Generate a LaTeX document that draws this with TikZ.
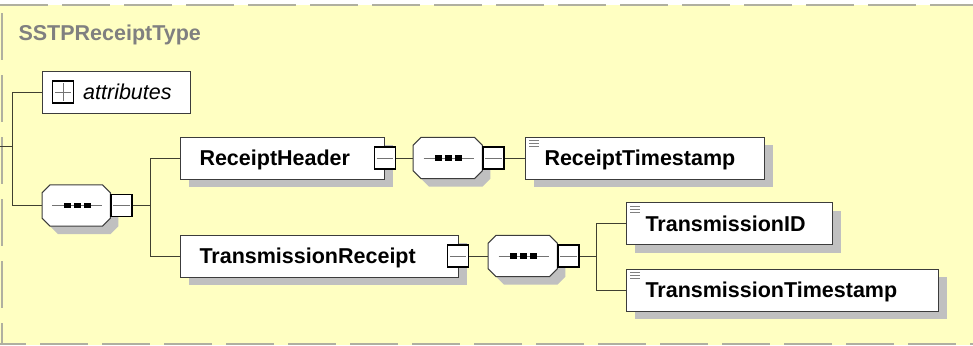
\documentclass[tikz,border=0pt]{standalone}
\usepackage{fontspec}
\setmainfont{Liberation Sans}
\usepackage{tikz}
\usetikzlibrary{positioning,calc,shadows}
\definecolor{bgyellow}{RGB}{255,255,194}
\definecolor{framegray}{RGB}{176,176,160}
\definecolor{shadegray}{RGB}{192,192,192}
\definecolor{linecol}{RGB}{64,64,48}
\definecolor{boxline}{RGB}{60,60,60}
\tikzset{
    plainbox/.style={draw=boxline, line width=1pt, fill=white, anchor=west, minimum height=42pt},
    elem/.style={plainbox, inner xsep=19pt, align=left, font=\fontsize{21.5pt}{26pt}\selectfont\bfseries,
        text height=15.4pt, text depth=0pt,
        general shadow={fill=shadegray, shadow xshift=8pt, shadow yshift=-8pt}},
    seq/.style={anchor=west, minimum width=68pt, minimum height=41pt, inner sep=0pt},
    octo/.style={draw=boxline, line width=1pt, fill=white},
    btn/.style={draw=black, line width=1.4pt, fill=white, minimum width=21pt, minimum height=22pt, inner sep=0pt},
    sign/.style={draw=black!55, line width=1pt},
    icon/.style={draw=black!50, line width=0.8pt},
    conn/.style={draw=linecol, line width=1pt},
    border/.style={draw=framegray, line width=2pt, dash pattern=on 48pt off 14pt}
}

\begin{document}
\begin{tikzpicture}[x=1pt, y=-1pt]
    \useasboundingbox (0,0) rectangle (973,345);
    \fill[bgyellow] (0,5) rectangle (973,345);
    \draw[border] (0,5) -- (973,5);
    \draw[border, dash phase=22pt] (0,344) -- (973,344);
    \foreach \y in {13,75,137,199,261,323}
        \fill[framegray] (0.5,\y) rectangle (2.5,{min(\y+47,345)});

    \node[anchor=base west, text=black!50, font=\fontsize{21.5pt}{26pt}\selectfont\bfseries] (typename) at (15,41) {SSTPReceiptType};

    % attributes
    \node[plainbox, minimum width=148pt] (attr) at (42,92) {};
    \node[btn, anchor=west] (attrbtn) at ([xshift=10pt]attr.west) {};
    \node[anchor=west, inner sep=0pt, font=\fontsize{21.5pt}{26pt}\selectfont\itshape, text height=15.4pt, text depth=0pt] (attrtext) at ([xshift=41pt]attr.west) {attributes};

    % elements and sequence compositors
    \node[seq] (seqA) at (42,205.5) {};
    \node[elem, minimum width=204pt, text width=166pt] (hdr) at (180,158) {ReceiptHeader};
    \node[btn] (hdrbtn) at (hdr.east) {};
    \node[seq, minimum width=69pt] (seqB) at (413,158) {};
    \node[elem, minimum width=239pt, text width=201pt] (hts) at (525,158) {ReceiptTimestamp};
    \node[elem, minimum width=278pt, text width=240pt] (trr) at (180,256) {TransmissionReceipt};
    \node[btn] (trrbtn) at ([xshift=-1pt]trr.east) {};
    \node[seq, minimum width=69pt] (seqC) at (488,256) {};
    \node[elem, minimum width=206pt, text width=168pt] (tid) at (626,223.5) {TransmissionID};
    \node[elem, minimum width=312pt, text width=274pt] (tts) at (626,290) {TransmissionTimestamp};

    \foreach \s in {seqA,seqB,seqC} {
        \fill[shadegray, transform canvas={shift={(8pt,-8pt)}}]
            ([xshift=8pt]\s.north west) -- ([xshift=-8pt]\s.north east) -- ([yshift=-8pt]\s.north east)
            -- ([yshift=8pt]\s.south east) -- ([xshift=-8pt]\s.south east) -- ([xshift=8pt]\s.south west)
            -- ([yshift=8pt]\s.south west) -- ([yshift=-8pt]\s.north west) -- cycle;
        \draw[octo]
            ([xshift=8pt]\s.north west) -- ([xshift=-8pt]\s.north east) -- ([yshift=-8pt]\s.north east)
            -- ([yshift=8pt]\s.south east) -- ([xshift=-8pt]\s.south east) -- ([xshift=8pt]\s.south west)
            -- ([yshift=8pt]\s.south west) -- ([yshift=-8pt]\s.north west) -- cycle;
        \draw[sign] ([xshift=-24pt]\s.center) -- ([xshift=26pt]\s.center);
        \foreach \d in {-9,1,11}
            \fill ([xshift=\d pt]\s.center) +(-3.3pt,-2.8pt) rectangle +(3.3pt,2.8pt);
    }
    \node[btn, anchor=west] (seqAbtn) at (seqA.east) {};
    \node[btn, anchor=west] (seqBbtn) at (seqB.east) {};
    \node[btn, anchor=west] (seqCbtn) at (seqC.east) {};

    % signs on the buttons
    \foreach \b in {attrbtn,seqAbtn,hdrbtn,seqBbtn,trrbtn,seqCbtn}
        \draw[sign] ([xshift=3pt]\b.west) -- ([xshift=-3pt]\b.east);
    \draw[sign] ([yshift=3pt]attrbtn.south) -- ([yshift=-3pt]attrbtn.north);
    \foreach \e in {hts,tid,tts}
        \foreach \k in {4,7,10}
            \draw[icon] ([shift={(4pt,-\k pt)}]\e.north west) -- ++(10pt,0pt);

    % connectors
    \coordinate (typein) at (0,146);
    \coordinate (jA) at (12,146);
    \coordinate (jB) at (150,205.5);
    \coordinate (jC) at (596,256);
    \draw[conn] (typein) -- (jA);
    \draw[conn] (jA) |- (attr);
    \draw[conn] (jA) |- (seqA);
    \draw[conn] (seqAbtn) -- (jB);
    \draw[conn] (jB) |- (hdr);
    \draw[conn] (jB) |- (trr);
    \draw[conn] (hdrbtn) -- (seqB);
    \draw[conn] (seqBbtn) -- (hts);
    \draw[conn] (trrbtn) -- (seqC);
    \draw[conn] (seqCbtn) -- (jC);
    \draw[conn] (jC) |- (tid);
    \draw[conn] (jC) |- (tts);
\end{tikzpicture}
\end{document}
